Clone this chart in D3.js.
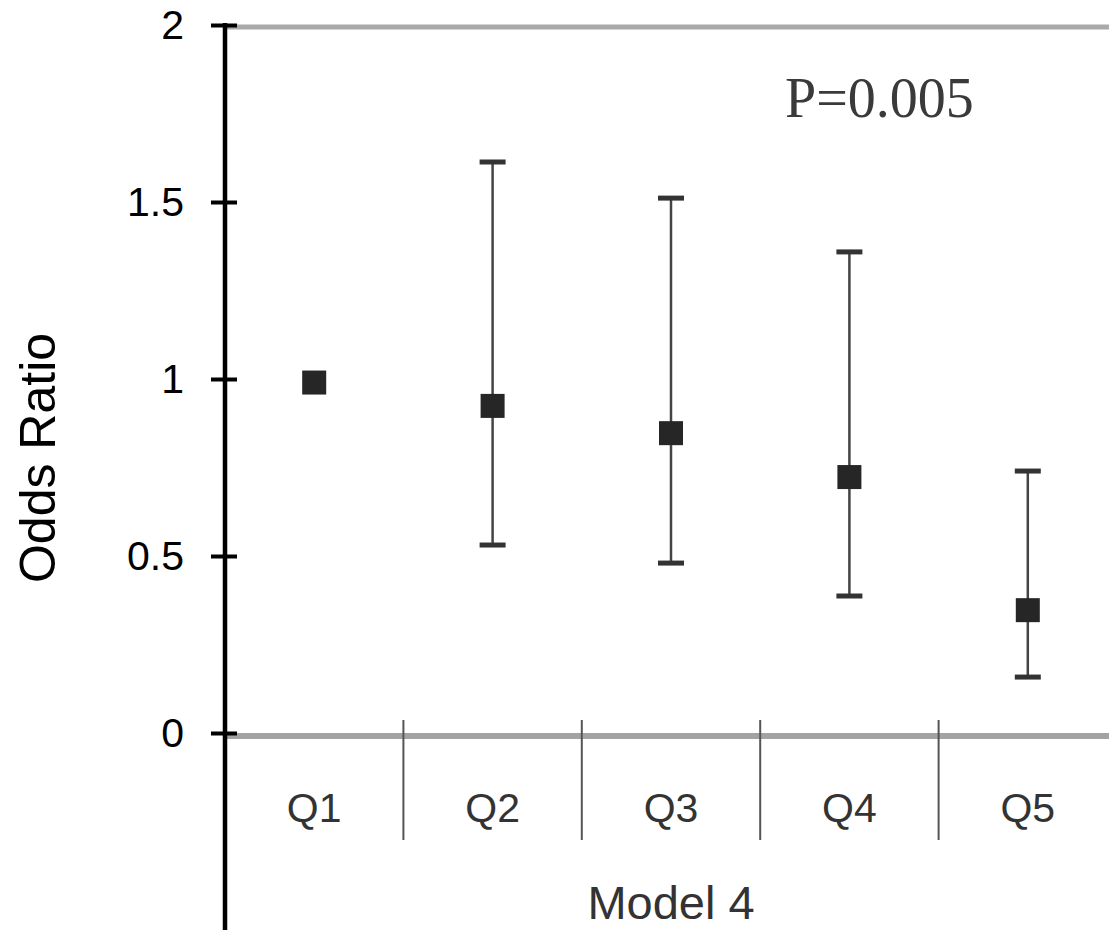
<!DOCTYPE html>
<meta charset="utf-8">
<head>
  <style>
    body { margin: 0; background: #fff; }
    svg { display: block; }
  </style>
</head>
<body>
<div id="chart"></div>
<script src="https://d3js.org/d3.v7.min.js"></script>
<script>

// data
var quintiles = ["Q1", "Q2", "Q3", "Q4", "Q5"];
var oddsRatio = [0.99, 0.924, 0.847, 0.723, 0.347];
var ciLow     = [null, 0.531, 0.48, 0.387, 0.158];
var ciHigh    = [null, 1.613, 1.511, 1.359, 0.74];
var yTicks    = [0, 0.5, 1, 1.5, 2];
var groupLabel = "Model 4";
var pLabel = "P=0.005";

var W = 1109, H = 938;

var svg = d3.select("#chart")
  .append("svg")
    .attr("width", W)
    .attr("height", H);

var x = d3.scaleBand()
  .domain(quintiles)
  .range([225, 1117]);

var y = d3.scaleLinear()
  .domain([0, 2])
  .range([733, 25]);

// gray frame lines at 0 and 2
svg.append("line")
  .attr("x1", 225).attr("x2", W)
  .attr("y1", y(2) + 2).attr("y2", y(2) + 2)
  .attr("stroke", "#aaa").attr("stroke-width", 5);

svg.append("line")
  .attr("x1", 225).attr("x2", W)
  .attr("y1", y(0) + 3).attr("y2", y(0) + 3)
  .attr("stroke", "#a3a3a3").attr("stroke-width", 6);

// separators between quintiles
svg.selectAll(".sep")
  .data(quintiles.slice(1))
  .enter()
  .append("line")
    .attr("class", "sep")
    .attr("x1", function(d) { return x(d); })
    .attr("x2", function(d) { return x(d); })
    .attr("y1", y(0) - 13)
    .attr("y2", y(0) + 107)
    .attr("stroke", "#555")
    .attr("stroke-width", 2);

// quintile labels
svg.selectAll(".qlab")
  .data(quintiles)
  .enter()
  .append("text")
    .attr("class", "qlab")
    .attr("x", function(d) { return x(d) + x.bandwidth() / 2; })
    .attr("y", y(0) + 89)
    .attr("text-anchor", "middle")
    .style("font-family", "Liberation Sans, Arial, sans-serif")
    .style("font-size", "41px")
    .style("fill", "#333")
    .text(function(d) { return d; });

svg.append("text")
  .attr("x", 671)
  .attr("y", 919)
  .attr("text-anchor", "middle")
  .style("font-family", "Liberation Sans, Arial, sans-serif")
  .style("font-size", "47px")
  .style("fill", "#333")
  .text(groupLabel);

svg.append("text")
  .attr("x", 785)
  .attr("y", 117)
  .style("font-family", "Liberation Serif, Times New Roman, serif")
  .style("font-size", "56px")
  .style("fill", "#3a3a3a")
  .text(pLabel);

// y axis
var yAxis = svg.append("g")
  .attr("transform", "translate(225,0)")
  .call(d3.axisLeft(y).tickValues(yTicks).tickSize(14).tickPadding(27)
        .tickFormat(function(d) { return d3.format("")(d); }));

yAxis.select(".domain").remove();
yAxis.selectAll(".tick line")
  .attr("x1", -14).attr("x2", 12)
  .attr("stroke", "#000").attr("stroke-width", 4);
yAxis.selectAll(".tick text")
  .style("font-family", "Liberation Sans, Arial, sans-serif")
  .style("font-size", "41px")
  .style("fill", "#000");

svg.append("line")
  .attr("x1", 225).attr("x2", 225)
  .attr("y1", y(2) - 2).attr("y2", 930)
  .attr("stroke", "#000").attr("stroke-width", 4.5);

svg.append("text")
  .attr("transform", "translate(55,458) rotate(-90)")
  .attr("text-anchor", "middle")
  .style("font-family", "Liberation Sans, Arial, sans-serif")
  .style("font-size", "50px")
  .style("fill", "#000")
  .text("Odds Ratio");

// error bars
var rows = quintiles.map(function(q, i) {
  return { q: q, or: oddsRatio[i], lo: ciLow[i], hi: ciHigh[i] };
});
var cx = function(d) { return x(d.q) + x.bandwidth() / 2; };
var withCI = rows.filter(function(d) { return d.lo != null; });

svg.selectAll(".whisker")
  .data(withCI)
  .enter()
  .append("line")
    .attr("x1", cx).attr("x2", cx)
    .attr("y1", function(d) { return y(d.hi); })
    .attr("y2", function(d) { return y(d.lo); })
    .attr("stroke", "#444").attr("stroke-width", 2.5);

["hi", "lo"].forEach(function(k) {
  svg.selectAll(".cap-" + k)
    .data(withCI)
    .enter()
    .append("line")
      .attr("x1", function(d) { return cx(d) - 13; })
      .attr("x2", function(d) { return cx(d) + 13; })
      .attr("y1", function(d) { return y(d[k]); })
      .attr("y2", function(d) { return y(d[k]); })
      .attr("stroke", "#333").attr("stroke-width", 5);
});

// point estimates
svg.selectAll(".pt")
  .data(rows)
  .enter()
  .append("rect")
    .attr("x", function(d) { return cx(d) - 12; })
    .attr("y", function(d) { return y(d.or) - 12; })
    .attr("width", 24)
    .attr("height", 24)
    .attr("fill", "#262626");

</script>
</body>
